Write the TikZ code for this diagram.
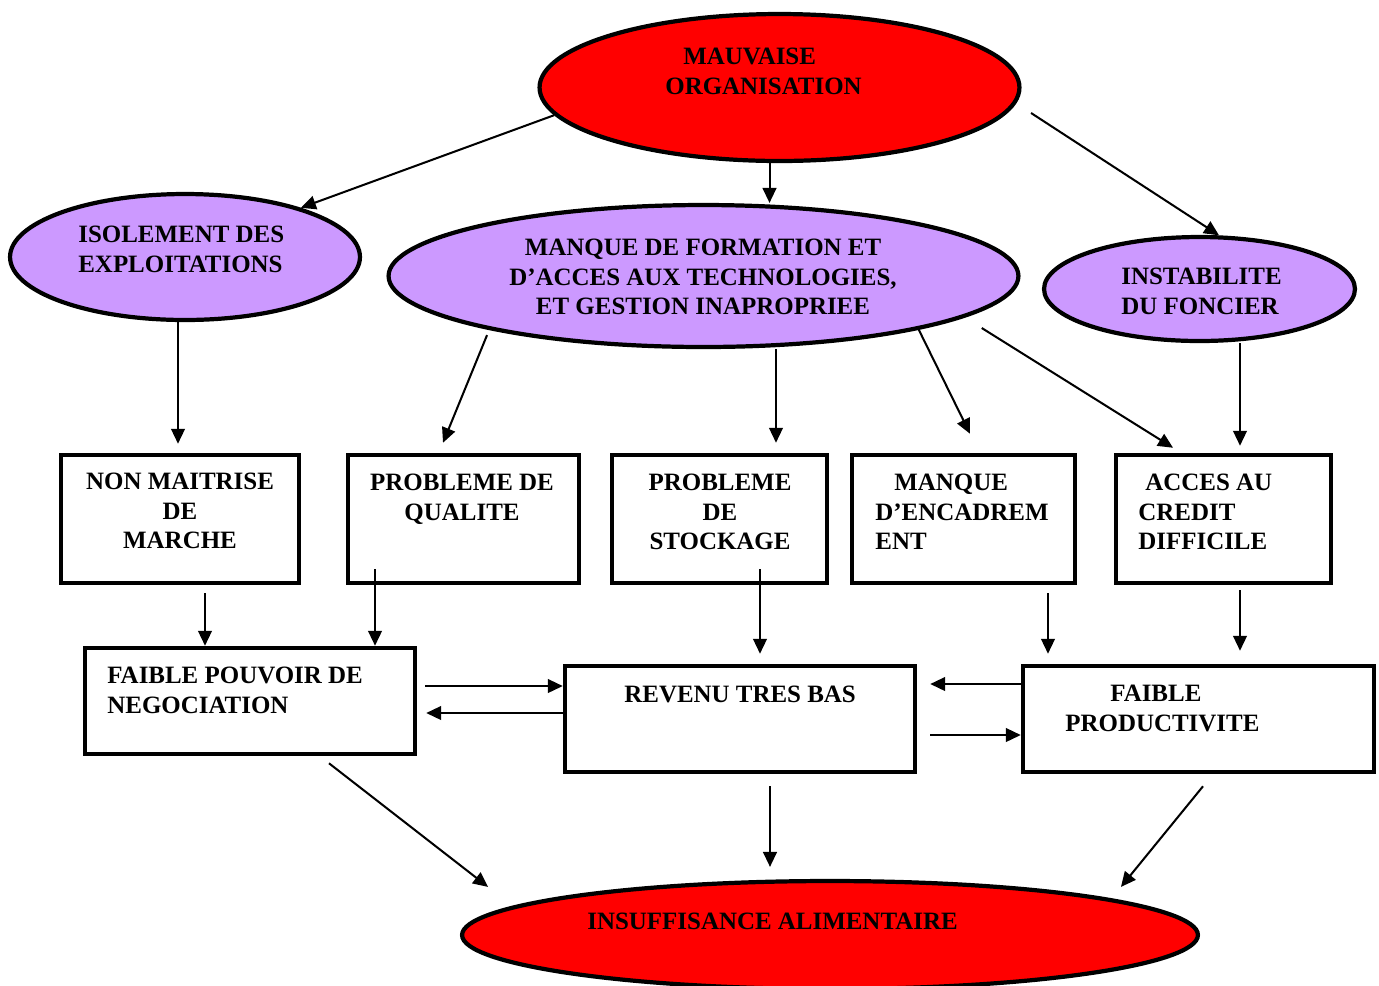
\documentclass[tikz,border=0pt]{standalone}
\usepackage{fontspec}
\setmainfont{Liberation Serif}
\usetikzlibrary{arrows.meta,shapes.geometric,calc}
\definecolor{lilacfill}{HTML}{CC99FF}

\begin{document}
\begin{tikzpicture}[x=0.02cm,y=-0.02cm,
  redell/.style={ellipse, draw=black, line width=2.4pt, fill=red, inner sep=0pt},
  lilac/.style={ellipse, draw=black, line width=2.4pt, fill=lilacfill, inner sep=0pt},
  box/.style={rectangle, draw=black, line width=2.6pt, inner sep=0pt},
  lbl/.style={inner sep=0pt, font=\fontsize{14.2}{16.7}\selectfont\bfseries},
  arr/.style={-{Triangle[length=8.5pt,width=7.8pt]}, line width=1.15pt},
]
\useasboundingbox (0,0) rectangle (1379,985);

% ellipses
\node[redell, minimum width=9.6cm, minimum height=2.94cm] (mo) at (779.5,87.5) {};
\node[lilac, minimum width=7.0cm, minimum height=2.52cm] (isol) at (185,257) {};
\node[lilac, minimum width=12.6cm, minimum height=2.84cm] (form) at (703.5,276) {};
\node[lilac, minimum width=6.22cm, minimum height=2.08cm] (inst) at (1199.5,289) {};
\node[redell, minimum width=14.72cm, minimum height=2.16cm] (ins) at (830,935) {};

% boxes
\node[box, minimum width=4.76cm, minimum height=2.56cm] (b1) at (180,519) {};
\node[box, minimum width=4.62cm, minimum height=2.56cm] (b2) at (463.5,519) {};
\node[box, minimum width=4.3cm, minimum height=2.56cm] (b3) at (719.5,519) {};
\node[box, minimum width=4.46cm, minimum height=2.56cm] (b4) at (963.5,519) {};
\node[box, minimum width=4.3cm, minimum height=2.56cm] (b5) at (1223.5,519) {};
\node[box, minimum width=6.6cm, minimum height=2.12cm] (c1) at (250,701) {};
\node[box, minimum width=7.0cm, minimum height=2.12cm] (c2) at (740,719) {};
\node[box, minimum width=7.02cm, minimum height=2.12cm] (c3) at (1198.5,719) {};

% labels
\node[lbl, anchor=north west, align=left] (tmo) at (665,48) {\hspace*{0.36cm}MAUVAISE\\ORGANISATION};
\node[lbl, anchor=north west, align=left] (tisol) at (78,226) {ISOLEMENT DES\\EXPLOITATIONS};
\node[lbl, anchor=north, align=center] (tform) at (703,239) {MANQUE DE FORMATION ET\\D’ACCES AUX TECHNOLOGIES,\\ET GESTION INAPROPRIEE};
\node[lbl, anchor=north west, align=left] (tinst) at (1121,268) {INSTABILITE\\DU FONCIER};
\node[lbl, anchor=north, align=center] (tb1) at (180,473) {NON MAITRISE\\DE\\MARCHE};
\node[lbl, anchor=north, align=center] (tb2) at (462,474) {PROBLEME DE\\QUALITE};
\node[lbl, anchor=north, align=center] (tb3) at (720,474) {PROBLEME\\DE\\STOCKAGE};
\node[lbl, anchor=north west, align=left] (tb4) at (875,474) {\hspace*{0.38cm}MANQUE\\D’ENCADREM\\ENT};
\node[lbl, anchor=north west, align=left] (tb5) at (1138,474) {\hspace*{0.14cm}ACCES AU\\CREDIT\\DIFFICILE};
\node[lbl, anchor=north west, align=left] (tc1) at (107,667) {FAIBLE POUVOIR DE\\NEGOCIATION};
\node[lbl, anchor=north west, align=left] (tc2) at (624,686) {REVENU TRES BAS};
\node[lbl, anchor=north west, align=left] (tc3) at (1065,685) {\hspace*{0.9cm}FAIBLE\\PRODUCTIVITE};
\node[lbl, anchor=north west, align=left] (tins) at (587,913) {INSUFFISANCE ALIMENTAIRE};

% connectors
\draw[arr] (mo.187) -- (isol.23);
\draw[arr] ([xshift=-0.2cm]mo.south) -- ([xshift=-0.2cm]mo.south |- form.north);
\draw[arr] ([xshift=0.19cm,yshift=-0.51cm]mo.east) -- (inst.70);
\draw[arr, shorten >=0.18cm] ([xshift=-0.14cm]isol.south) -- ([xshift=-0.14cm]isol.south |- b1.north);
\draw[arr] ([xshift=-4.33cm,yshift=0.28cm]form.south) -- ([xshift=-0.41cm,yshift=0.2cm]b2.north);
\draw[arr, shorten >=0.2cm] ([xshift=1.45cm]form.south) -- ([xshift=1.45cm]form.south |- b3.north);
\draw[arr] (form.-14) -- ([xshift=0.13cm,yshift=0.38cm]b4.north);
\draw[arr, shorten <=0.4cm] (form.-9) -- ([xshift=-1.01cm,yshift=0.1cm]b5.north);
\draw[arr, shorten >=0.14cm] ([xshift=0.81cm]inst.south) -- ([xshift=0.81cm]inst.south |- b5.north);
\draw[arr, shorten <=0.16cm] ([xshift=0.5cm]b1.south) -- ([xshift=0.5cm]b1.south |- c1.north);
\draw[arr] ([xshift=-1.77cm,yshift=0.32cm]b2.south) -- ([xshift=-1.77cm]b2.south |- c1.north);
\draw[arr, shorten >=0.2cm] ([xshift=0.81cm,yshift=0.32cm]b3.south) -- ([xshift=0.81cm]b3.south |- c2.north);
\draw[arr, shorten <=0.16cm, shorten >=0.2cm] ([xshift=1.69cm]b4.south) -- ([xshift=1.69cm]b4.south |- c3.north);
\draw[arr, shorten <=0.1cm, shorten >=0.26cm] ([xshift=0.33cm]b5.south) -- ([xshift=0.33cm]b5.south |- c3.north);
\draw[arr, shorten <=0.16cm] ([yshift=0.3cm]c1.east) -- ([yshift=0.3cm]c1.east -| c2.west);
\draw[arr, shorten >=0.18cm] ([yshift=-0.24cm]c1.east -| c2.west) -- ([yshift=-0.24cm]c1.east);
\draw[arr, shorten >=0.26cm] ([yshift=0.7cm]c3.west) -- ([yshift=0.7cm]c3.west -| c2.east);
\draw[arr, shorten <=0.26cm] ([yshift=-0.32cm]c2.east) -- ([yshift=-0.32cm]c2.east -| c3.west);
\draw[arr] ([xshift=1.58cm,yshift=-0.14cm]c1.south) -- ([xshift=-6.84cm,yshift=-0.16cm]ins.north);
\draw[arr, shorten <=0.24cm, shorten >=0.24cm] ([xshift=0.6cm]c2.south) -- ([xshift=0.6cm]c2.south |- ins.north);
\draw[arr] ([xshift=0.09cm,yshift=-0.24cm]c3.south) -- ([xshift=5.82cm,yshift=-0.16cm]ins.north);
\end{tikzpicture}
\end{document}
